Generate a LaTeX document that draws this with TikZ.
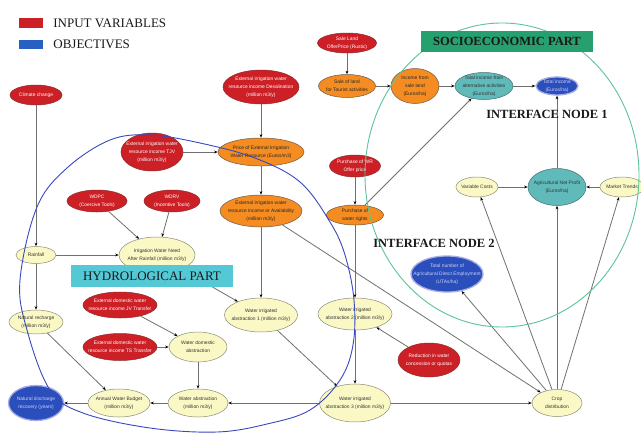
\documentclass[tikz,border=0pt]{standalone}
\usepackage{fontspec}
\setmainfont{Liberation Serif}
\newfontfamily\nodesf{Liberation Sans}
\usepackage{tikz}
\usetikzlibrary{arrows.meta,positioning,shapes.geometric}
\definecolor{inred}{RGB}{204,32,38}
\definecolor{inredline}{RGB}{140,45,45}
\definecolor{objblue}{RGB}{42,78,188}
\definecolor{objring}{RGB}{168,172,226}
\definecolor{objtext}{RGB}{205,210,245}
\definecolor{orng}{RGB}{244,140,34}
\definecolor{orngline}{RGB}{110,90,70}
\definecolor{pale}{RGB}{250,248,196}
\definecolor{paleline}{RGB}{140,140,118}
\definecolor{tealn}{RGB}{96,186,186}
\definecolor{tealline}{RGB}{70,110,110}
\definecolor{hydrocyan}{RGB}{84,200,212}
\definecolor{sociogreen}{RGB}{38,160,110}
\definecolor{greenring}{RGB}{92,196,150}
\definecolor{bluering}{RGB}{56,72,190}
\definecolor{linegray}{RGB}{112,112,112}

\begin{document}
\begin{tikzpicture}[
  x=1pt, y=-1pt,
  font=\nodesf\fontsize{4.9}{7.9}\selectfont,
  nd/.style={ellipse, draw, line width=0.5pt, align=center, inner xsep=-9pt, inner ysep=-2pt},
  inbox/.style={nd, fill=inred, draw=inredline, text=white},
  midbox/.style={nd, fill=orng, draw=orngline, text=black!85},
  varbox/.style={nd, fill=pale, draw=paleline, text=black!80},
  netbox/.style={nd, fill=tealn, draw=tealline, text=black!80},
  objbox/.style={nd, fill=objblue, draw=objring, line width=1.3pt, text=objtext},
  arr/.style={-{Stealth[length=3.6pt,width=2.8pt,color=black]}, draw=linegray, line width=0.8pt},
  part/.style={font=\rmfamily\fontsize{13}{15}\selectfont, text=black!90, inner sep=0pt},
  headline/.style={part, font=\rmfamily\bfseries\fontsize{12.5}{15}\selectfont}
]
\fill[white] (0,0) rectangle (641,432);
\useasboundingbox (0,0) rectangle (641,432);

% legend
\node[fill=inred, minimum width=24pt, minimum height=10pt, inner sep=0pt] (legred) at (31,23) {};
\node[fill=objblue!90!cyan, minimum width=24pt, minimum height=9pt, inner sep=0pt] (legblue) at (31,44.5) {};
\node[part, anchor=west, right=10pt of legred] (legin) {INPUT VARIABLES};
\node[part, anchor=west, right=10pt of legblue] (legobj) {OBJECTIVES};

% hydrological side
\node[inbox, minimum width=52pt, minimum height=20pt] (climate) at (36,95) {Climate change};
\node[varbox, minimum width=40pt, minimum height=17pt] (rain) at (36,255) {Rainfall};
\node[inbox, minimum width=62pt, minimum height=38pt] (tjv) at (152,152) {External irrigation water\\resource income TJV\\(million m3/y)};
\node[inbox, minimum width=60pt, minimum height=22pt] (wdpc) at (97,201) {WDPC\\(Coercive Tools)};
\node[inbox, minimum width=56pt, minimum height=22pt] (wdrv) at (172,201) {WDRV\\(Incentive Tools)};
\node[varbox, minimum width=76pt, minimum height=36pt] (iwn) at (157,255) {Irrigation Water Need\\After Rainfall (million m3/y)};
\node[varbox, minimum width=54pt, minimum height=24pt] (natrech) at (36,322) {Natural recharge\\(million m3/y)};
\node[inbox, minimum width=74pt, minimum height=26pt] (jv) at (120,305) {External domestic water\\resource income JV Transfer};
\node[inbox, minimum width=74pt, minimum height=27pt] (ts) at (120,347) {External domestic water\\resource income TS Transfer};
\node[varbox, minimum width=58pt, minimum height=30pt] (wdom) at (198,347) {Water domestic\\abstraction};
\node[varbox, minimum width=60pt, minimum height=28pt] (wabs) at (198,403) {Water abstraction\\(million m3/y)};
\node[varbox, minimum width=62pt, minimum height=28pt] (awb) at (119,403) {Annual Water Budget\\(million m3/y)};
\node[objbox, minimum width=55pt, minimum height=35pt] (natdis) at (36,403) {Natural discharge\\recovery (years)};

% irrigation chain
\node[inbox, minimum width=76pt, minimum height=34pt] (desal) at (261,87) {External irrigation water\\resource income Desalination\\(million m3/y)};
\node[midbox, minimum width=86pt, minimum height=28pt] (price) at (261,152) {Price of External Irrigation\\Water Resource (Euros/m3)};
\node[midbox, minimum width=82pt, minimum height=32pt] (avail) at (261,211) {External irrigation water\\resource income or Availability\\(million m3/y)};
\node[varbox, minimum width=73pt, minimum height=34pt] (wia1) at (261,315) {Water irrigated\\abstraction 1 (million m3/y)};
\node[inbox, minimum width=51pt, minimum height=22pt] (wroffer) at (355,166) {Purchase of WR\\Offer price};
\node[midbox, minimum width=57pt, minimum height=20pt] (purchase) at (355,215) {Purchase of\\water rights};
\node[varbox, minimum width=74pt, minimum height=32pt] (wia2) at (355,314) {Water irrigated\\abstraction 2 (million m3/y)};
\node[varbox, minimum width=71pt, minimum height=38pt] (wia3) at (355,403) {Water irrigated\\abstraction 3 (million m3/y)};
\node[inbox, minimum width=62pt, minimum height=34pt] (reduction) at (429,360) {Reduction in water\\concession or quotas};
\node[varbox, minimum width=50pt, minimum height=27pt] (crop) at (557,403) {Crop\\distribution};

% socioeconomic side
\node[inbox, minimum width=59pt, minimum height=20pt] (saleoffer) at (347,43) {Sale Land\\OfferPrice (Rustic)};
\node[midbox, minimum width=57pt, minimum height=23pt] (saletour) at (347,86) {Sale of land\\for Tourist activities};
\node[midbox, minimum width=48pt, minimum height=35pt] (incsale) at (415,86) {Income from\\sale land\\(Euros/ha)};
\node[netbox, minimum width=58pt, minimum height=27pt] (totalt) at (484,86) {Total income from\\alternative activities\\(Euros/ha)};
\node[objbox, minimum width=42pt, minimum height=18pt] (totinc) at (557,86) {Total income\\(Euros/ha)};
\node[varbox, minimum width=42pt, minimum height=20pt] (varcost) at (477,187) {Variable Costs};
\node[netbox, minimum width=58pt, minimum height=37pt] (netprofit) at (557,187) {Agricultural Net Profit\\(Euros/ha)};
\node[varbox, minimum width=44pt, minimum height=20pt] (market) at (622,187) {Market Trends};
\node[objbox, minimum width=72pt, minimum height=36pt] (employ) at (447,274) {Total number of\\Agricultural Direct Employment\\(UTAs/ha)};

\draw[arr] (climate) -- (rain);
\draw[arr] (rain) -- (iwn);
\draw[arr] (wdpc) -- (iwn);
\draw[arr] (wdrv) -- (iwn);
\draw[arr] (rain) -- (natrech);
\draw[arr] (tjv) -- (price);
\draw[arr] (desal) -- (price);
\draw[arr] (price) -- (avail);
\draw[arr] (avail) -- (wia1);
\draw[arr] (iwn) -- (wia1);
\draw[arr] (avail) -- (crop);
\draw[arr] (saleoffer) -- (saletour);
\draw[arr] (saletour) -- (incsale);
\draw[arr] (incsale) -- (totalt);
\draw[arr] (totalt) -- (totinc);
\draw[arr] (wroffer) -- (purchase);
\draw[arr] (purchase) -- (totalt);
\draw[arr] (purchase) -- (wia2);
\draw[arr] (reduction) -- (wia2);
\draw[arr] (wia1) -- (wia3);
\draw[arr] (wia2) -- (wia3);
\draw[arr] (wia3) -- (wabs);
\draw[arr] (wia3) -- (crop);
\draw[arr] (crop) -- (varcost);
\draw[arr] (crop) -- (netprofit);
\draw[arr] (crop) -- (market);
\draw[arr] (crop) -- (employ);
\draw[arr] (varcost) -- (netprofit);
\draw[arr] (market) -- (netprofit);
\draw[arr] (netprofit) -- (totinc);
\draw[arr] (jv) -- (wdom);
\draw[arr] (ts) -- (wdom);
\draw[arr] (wdom) -- (wabs);
\draw[arr] (wabs) -- (awb);
\draw[arr] (natrech) -- (awb);
\draw[arr] (awb) -- (natdis);

% the two parts
\draw[bluering, line width=0.9pt] plot[smooth cycle, tension=0.6] coordinates {
  (20,280) (27,330) (50,390) (83,413) (150,428) (217,432) (267,424) (310,410)
  (340,380) (353,345) (354,300) (345,255) (330,222) (300,182) (255,158) (200,143)
  (150,135) (110,140) (67,168) (37,207)};
\draw[greenring, line width=0.9pt] (502,175) ellipse[x radius=137, y radius=152];

\node[part, fill=hydrocyan, minimum width=162pt, minimum height=22pt] (hydro) at (152,276) {HYDROLOGICAL PART};
\node[headline, fill=sociogreen, minimum width=172pt, minimum height=21pt] (socio) at (507,41.5) {SOCIOECONOMIC PART};
\node[headline] (iface1) at (547,114) {INTERFACE NODE 1};
\node[headline] (iface2) at (434,243) {INTERFACE NODE 2};
\end{tikzpicture}
\end{document}
